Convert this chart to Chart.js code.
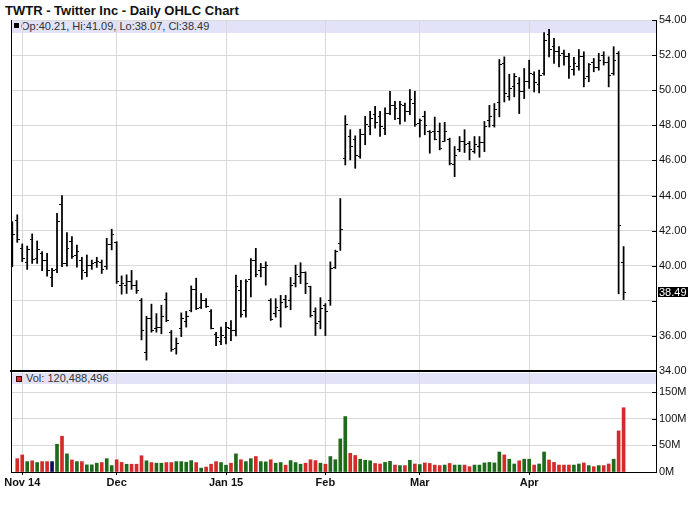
<!DOCTYPE html>
<html>
<head>
<meta charset="utf-8">
<script src="https://cdn.jsdelivr.net/npm/chart.js@4.4.1/dist/chart.umd.min.js"></script>
<style>
html,body{margin:0;padding:0;background:#fff;}
body{width:700px;height:512px;position:relative;overflow:hidden;font-family:'Liberation Sans',Arial,sans-serif;}
#title{position:absolute;left:5px;top:3px;font-size:13px;font-weight:bold;line-height:15px;color:#111;white-space:nowrap;}
.band{position:absolute;left:11px;width:645px;background:#e2e2f8;z-index:0;}
#pband{top:20px;height:13px;}
#vband{top:373px;height:11px;}
.sq{position:absolute;box-sizing:border-box;}
#psq{left:3px;top:3px;width:5px;height:5px;background:#000;}
#vsq{left:5px;top:3px;width:6px;height:6px;background:#d42a2a;border:1px solid #400;}
.txt{position:absolute;font-size:11px;color:#333;white-space:nowrap;}
#ptxt{left:10px;top:0;line-height:12px;}
#vtxt{left:15px;top:0;line-height:11px;}
canvas{position:absolute;left:0;}
#pc{top:0;z-index:2;}
#vc{top:352px;z-index:1;}
</style>
</head>
<body>
<div id="title">TWTR - Twitter Inc - Daily OHLC Chart</div>
<div class="band" id="pband"><div class="sq" id="psq"></div><div class="txt" id="ptxt"></div></div>
<div class="band" id="vband"><div class="sq" id="vsq"></div><div class="txt" id="vtxt"></div></div>
<canvas id="pc" width="700" height="380"></canvas>
<canvas id="vc" width="700" height="160"></canvas>
<script>
// ---------- data ----------
const dates = [
"2014-10-30","2014-10-31",
"2014-11-03","2014-11-04","2014-11-05","2014-11-06","2014-11-07","2014-11-10","2014-11-11","2014-11-12","2014-11-13","2014-11-14",
"2014-11-17","2014-11-18","2014-11-19","2014-11-20","2014-11-21","2014-11-24","2014-11-25","2014-11-26","2014-11-28",
"2014-12-01","2014-12-02","2014-12-03","2014-12-04","2014-12-05","2014-12-08","2014-12-09","2014-12-10","2014-12-11","2014-12-12",
"2014-12-15","2014-12-16","2014-12-17","2014-12-18","2014-12-19","2014-12-22","2014-12-23","2014-12-24","2014-12-26","2014-12-29","2014-12-30","2014-12-31",
"2015-01-02","2015-01-05","2015-01-06","2015-01-07","2015-01-08","2015-01-09","2015-01-12","2015-01-13","2015-01-14","2015-01-15","2015-01-16",
"2015-01-20","2015-01-21","2015-01-22","2015-01-23","2015-01-26","2015-01-27","2015-01-28","2015-01-29","2015-01-30",
"2015-02-02","2015-02-03","2015-02-04","2015-02-05","2015-02-06","2015-02-09","2015-02-10","2015-02-11","2015-02-12","2015-02-13",
"2015-02-17","2015-02-18","2015-02-19","2015-02-20","2015-02-23","2015-02-24","2015-02-25","2015-02-26","2015-02-27",
"2015-03-02","2015-03-03","2015-03-04","2015-03-05","2015-03-06","2015-03-09","2015-03-10","2015-03-11","2015-03-12","2015-03-13",
"2015-03-16","2015-03-17","2015-03-18","2015-03-19","2015-03-20","2015-03-23","2015-03-24","2015-03-25","2015-03-26","2015-03-27","2015-03-30","2015-03-31",
"2015-04-01","2015-04-02","2015-04-06","2015-04-07","2015-04-08","2015-04-09","2015-04-10","2015-04-13","2015-04-14","2015-04-15","2015-04-16","2015-04-17",
"2015-04-20","2015-04-21","2015-04-22","2015-04-23","2015-04-24","2015-04-27","2015-04-28","2015-04-29"
];
const opens = [
41.55,42.6,41.0,40.2,41.5,40.4,40.7,40.3,39.3,39.8,
43.5,40.1,41.4,40.6,40.3,39.6,40.0,40.2,40.2,39.95,
41.2,41.3,38.9,38.9,39.1,38.9,38.0,35.05,37.0,36.4,
36.5,38.1,36.2,35.3,36.4,36.83,37.46,38.62,37.6,38.04,
37.4,36.1,35.7,35.9,36.4,36.31,38.6,37.45,39.2,40.3,
39.75,39.88,38.0,37.26,37.45,38.1,38.03,39.0,39.36,39.6,
38.8,37.4,36.8,37.74,38.03,39.9,41.25,46.12,47.36,47.2,
46.2,47.5,47.94,48.6,48.5,47.84,48.7,49.12,48.36,49.1,
48.8,49.24,48.13,48.5,47.65,47.65,47.65,47.1,47.2,45.74,
46.6,47.1,46.98,46.5,46.79,47.02,48.3,48.0,49.3,51.5,
49.66,50.2,50.4,49.9,50.48,50.9,50.3,50.95,53.2,52.5,
52.19,52.1,51.9,51.2,51.33,51.9,50.8,51.6,51.3,52.0,
51.6,50.95,52.1,40.21
];
const highs = [
42.51,42.9,41.24,41.12,41.81,41.41,40.8,40.7,39.85,42.99,
44.0,41.89,41.66,41.18,40.48,40.61,40.32,40.48,40.32,41.56,
42.08,41.37,39.42,39.48,39.73,39.15,38.13,37.12,37.81,37.27,
37.75,38.46,36.31,35.88,37.31,37.4,38.85,39.29,38.42,38.13,
37.5,36.21,36.5,36.78,36.88,39.46,39.17,39.21,40.41,40.99,
40.13,40.22,38.12,38.12,38.31,38.31,39.33,40.03,40.17,39.65,
38.83,37.6,38.18,37.84,40.22,40.89,43.83,48.55,47.75,47.4,
47.78,48.51,48.8,49.08,48.8,48.99,49.94,49.37,49.37,49.27,
50.04,49.94,48.36,48.8,47.7,48.47,48.13,48.17,47.27,46.79,
47.36,47.75,47.08,47.36,47.36,48.22,49.14,49.24,51.75,51.9,
50.91,50.95,50.72,51.24,51.71,51.05,51.14,53.28,53.47,52.95,
52.48,52.29,52.1,51.87,52.32,52.19,51.52,51.81,52.1,52.19,
51.9,52.48,52.2,41.09
];
const lows = [
39.94,41.33,40.23,39.79,40.13,40.13,39.71,39.41,38.8,39.6,
39.94,39.98,40.42,39.92,39.22,39.37,39.79,39.9,39.56,39.79,
40.9,38.99,38.38,38.42,38.65,38.42,35.77,34.62,36.21,36.21,
36.12,36.81,35.12,34.96,35.96,36.5,37.37,37.5,37.56,37.62,
36.4,35.45,35.5,35.54,35.73,36.0,37.07,37.07,38.22,39.36,
39.36,38.89,36.88,37.07,36.5,37.6,37.49,38.79,38.98,38.41,
37.07,36.02,36.4,36.02,37.74,39.84,40.87,45.74,46.03,45.55,
46.12,46.89,47.46,47.84,47.36,47.46,48.6,48.32,48.07,48.22,
48.6,47.94,47.33,47.46,46.41,47.17,46.6,47.08,45.74,45.07,
46.5,46.45,46.03,46.41,46.18,46.5,47.9,47.9,48.48,49.33,
49.43,49.62,48.67,49.52,50.1,49.9,49.85,50.86,51.9,51.52,
51.33,51.43,50.67,50.86,51.14,50.19,50.48,51.05,51.14,51.43,
50.19,50.86,38.4,38.07
];
const closes = [
41.8,41.5,40.4,40.9,40.35,40.9,40.3,39.7,39.7,42.5,
40.1,41.0,40.5,40.8,39.7,40.0,40.1,40.25,39.8,41.2,
41.8,39.1,39.0,39.1,38.85,38.58,36.3,37.0,36.3,36.5,
37.1,36.9,35.2,35.55,37.0,37.13,38.62,37.56,38.0,37.7,
36.45,35.89,36.0,36.5,36.3,38.79,37.22,39.1,40.3,39.5,
39.9,40.0,36.92,37.6,37.9,37.68,38.9,39.5,39.6,38.98,
37.17,36.73,37.55,37.4,39.84,40.8,42.05,48.03,46.79,46.3,
47.5,48.03,48.4,48.17,47.94,48.7,49.1,48.93,49.18,48.8,
49.47,48.03,48.28,48.0,47.6,47.2,46.7,47.65,45.84,46.3,
47.07,46.89,46.6,46.9,47.0,47.94,48.5,48.9,51.49,49.8,
50.1,50.8,49.9,50.48,50.95,50.42,50.86,52.86,52.3,52.19,
52.0,51.94,51.33,51.5,51.9,50.67,51.45,51.3,51.71,51.6,
50.86,51.71,42.29,38.49
];
// volume in millions of shares
const volumes = [
null,25,32,19.5,21,17.7,19.5,19.5,19.5,52,
67,34,22.6,19.5,19.5,13.4,13.4,16.5,17.7,25,
12,23,18,14.6,14.6,14.6,30.5,21,17.7,16.5,
16.5,17.7,17.7,19.5,19.5,18.3,21.4,17.7,7.3,9.2,
14.6,19.5,17.7,12.8,16.5,34,23,19.5,25,29,
19.5,19,23,16.5,17.7,12.8,21.4,17.7,14.6,16.5,
23,21.4,16.5,14.6,29,23,62,104,35,31,
24,22,21,16,15,18,20,13,12,12,
22,15,14,17,16,13,12,13,16,13,
13,13,10,13,13,17,18,17,37.5,32,
24,15,21,24,24,13,15,37.5,22.5,18,
13,13,13,13,15,17,12,10,12,12,
15,24,77,120.488496
];
const monthLabels = ["Nov 14","Dec","Jan 15","Feb","Mar","Apr"];
const volTicks = [0,50,100,150];

// ---------- setup ----------
Chart.defaults.font.family = "'Liberation Sans', Arial, sans-serif";
Chart.defaults.font.size = 11;
Chart.defaults.color = '#111';

const N = dates.length;
const idx = dates.map((d,i)=>i);
const monthStarts = idx.filter(i => i>0 && dates[i].slice(0,7) !== dates[i-1].slice(0,7));
const xLabel = new Map(monthStarts.map((v,k)=>[v, monthLabels[k]]));
const X_MIN = -0.26, X_MAX = 129.52;
const GRID = '#d9d9d9';
const UP='#1b6b1b', DOWN='#d42a2a', FLAT='#0c0c5c';
const last = N-1;
const lastClose = closes[last];
const volColors = idx.map(i => i===0 ? FLAT : closes[i]>closes[i-1] ? UP : (closes[i]<closes[i-1] ? DOWN : FLAT));

document.getElementById('ptxt').textContent =
  `Op:${opens[last].toFixed(2)}, Hi:${highs[last].toFixed(2)}, Lo:${lows[last].toFixed(2)}, Cl:${closes[last].toFixed(2)}`;
document.getElementById('vtxt').textContent =
  'Vol: ' + Math.round(volumes[last]*1e6).toLocaleString('en-US');

function tickImg(side){
  const c = document.createElement('canvas');
  c.width = 5; c.height = 1;
  const g = c.getContext('2d');
  g.fillStyle = '#000';
  if (side === 'L') g.fillRect(0,0,2,1); else g.fillRect(3,0,2,1);
  return c;
}

const framePlugin = {
  id:'frame',
  afterDraw(chart){
    const {ctx, chartArea:a} = chart;
    const y = chart.scales.y;
    ctx.save();
    ctx.strokeStyle = '#000'; ctx.lineWidth = 1;
    ctx.beginPath();
    ctx.moveTo(a.left+0.5, a.top); ctx.lineTo(a.left+0.5, a.bottom);
    y.ticks.forEach(t => {
      const py = Math.round(y.getPixelForValue(t.value)) + 0.5;
      ctx.moveTo(a.right-4, py); ctx.lineTo(a.right, py);
    });
    ctx.stroke();
    ctx.restore();
  }
};
const lastPricePlugin = {
  id:'lastPrice',
  afterDraw(chart){
    const {ctx, chartArea:a} = chart;
    const py = chart.scales.y.getPixelForValue(lastClose);
    ctx.save();
    ctx.fillStyle = '#000';
    ctx.fillRect(a.right+2, Math.round(py)-5, 30, 10);
    ctx.fillStyle = '#fff';
    ctx.font = "11px 'Liberation Sans', Arial, sans-serif";
    ctx.textBaseline = 'middle';
    ctx.textAlign = 'left';
    ctx.fillText(lastClose.toFixed(2), a.right+3, Math.round(py)+0.5);
    ctx.restore();
  }
};

const xTicksBuild = s => { s.ticks = monthStarts.map(v => ({value:v})); };

// ---------- price panel ----------
new Chart(document.getElementById('pc'), {
  type:'bar',
  data:{ datasets:[
    { label:'HL', data: idx.map(i=>({x:i, y:[lows[i], highs[i]]})), backgroundColor:'#000', borderWidth:0, barThickness:1.1 },
    { type:'scatter', label:'Open', data: idx.map(i=>({x:i, y:opens[i]})), pointStyle: tickImg('L'), pointRadius:2, pointHoverRadius:2 },
    { type:'scatter', label:'Close', data: idx.map(i=>({x:i, y:closes[i]})), pointStyle: tickImg('R'), pointRadius:2, pointHoverRadius:2 }
  ]},
  options:{
    responsive:false, animation:false, devicePixelRatio:1, events:[],
    layout:{ padding:{ left:11, top:20, right:0, bottom:0 } },
    plugins:{ legend:{display:false}, tooltip:{enabled:false} },
    scales:{
      x:{ type:'linear', min:X_MIN, max:X_MAX, offset:false,
          grid:{ color:GRID, drawTicks:false, offset:false },
          border:{ display:true, color:'#000', width:2 },
          ticks:{ display:false },
          afterBuildTicks: xTicksBuild,
          afterFit: s => { s.height = 9; s.paddingLeft = 0; s.paddingRight = 0; } },
      y:{ position:'right', min:34, max:54,
          ticks:{ stepSize:2, padding:3, color:'#111',
                  callback: v => Math.abs(v - lastClose) < 1 ? '' : v.toFixed(2) },
          grid:{ color:GRID, drawTicks:false },
          border:{ color:'#000', width:1 },
          afterFit: s => { s.width = 44; s.paddingTop = 0; s.paddingBottom = 0; } }
    }
  },
  plugins:[framePlugin, lastPricePlugin]
});

// ---------- volume panel ----------
new Chart(document.getElementById('vc'), {
  type:'bar',
  data:{ datasets:[
    { label:'Vol', data: idx.map(i=>({x:i, y:volumes[i]})), backgroundColor: volColors, borderWidth:0, barThickness:3 }
  ]},
  options:{
    responsive:false, animation:false, devicePixelRatio:1, events:[],
    layout:{ padding:{ left:11, top:20, right:0, bottom:0 } },
    plugins:{ legend:{display:false}, tooltip:{enabled:false} },
    scales:{
      x:{ type:'linear', min:X_MIN, max:X_MAX, offset:false,
          grid:{ color:GRID, drawTicks:true, tickLength:3, tickColor:'#000', offset:false },
          border:{ display:true, color:'#000', width:1 },
          ticks:{ autoSkip:false, maxRotation:0, minRotation:0, padding:1, color:'#111',
                  font:{ weight:'bold', size:11 },
                  callback: v => xLabel.has(v) ? xLabel.get(v) : '' },
          afterBuildTicks: xTicksBuild,
          afterFit: s => { s.height = 40; s.paddingLeft = 0; s.paddingRight = 0; } },
      y:{ position:'right', min:0, max:187.5,
          afterBuildTicks: s => { s.ticks = volTicks.map(v => ({value:v})); },
          ticks:{ padding:3, color:'#111', callback: v => v + 'M' },
          grid:{ color:GRID, drawTicks:false },
          border:{ color:'#000', width:1 },
          afterFit: s => { s.width = 44; s.paddingTop = 0; s.paddingBottom = 0; } }
    }
  },
  plugins:[framePlugin]
});
</script>
</body>
</html>
